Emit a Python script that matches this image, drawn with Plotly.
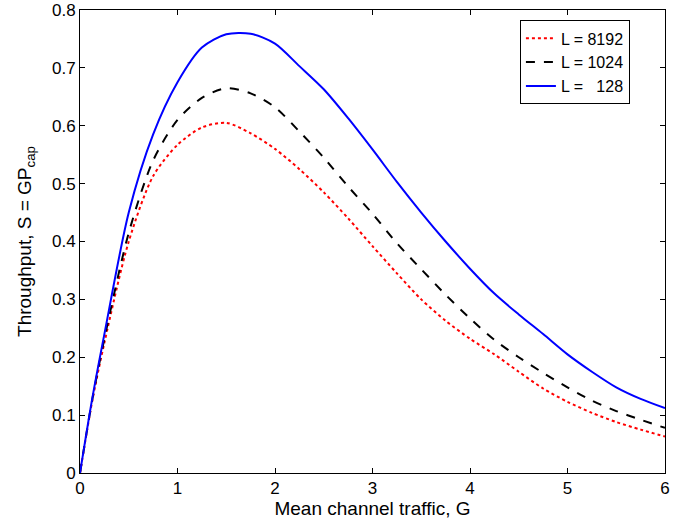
import plotly.graph_objects as go

G = [0, 0.125, 0.25, 0.5, 0.75, 1.0, 1.25, 1.5, 1.75, 2.0, 2.25, 2.5, 2.75, 3.0,
     3.25, 3.5, 3.75, 4.0, 4.25, 4.5, 4.75, 5.0, 5.25, 5.5, 5.75, 6.0]

S_8192 = [0, 0.124, 0.225, 0.40, 0.513, 0.567, 0.597, 0.605, 0.587, 0.560, 0.525,
          0.485, 0.440, 0.392, 0.345, 0.300, 0.263, 0.232, 0.205, 0.175, 0.146,
          0.123, 0.104, 0.088, 0.075, 0.063]
S_1024 = [0, 0.126, 0.232, 0.415, 0.54, 0.610, 0.648, 0.665, 0.656, 0.632, 0.590,
          0.545, 0.495, 0.448, 0.397, 0.352, 0.308, 0.267, 0.230, 0.200, 0.173,
          0.148, 0.125, 0.107, 0.092, 0.078]
S_128 = [0, 0.128, 0.24, 0.45, 0.585, 0.675, 0.735, 0.758, 0.759, 0.742, 0.703,
         0.663, 0.613, 0.559, 0.503, 0.450, 0.400, 0.353, 0.310, 0.274, 0.240,
         0.205, 0.175, 0.148, 0.128, 0.112]

x_ticks = [0, 1, 2, 3, 4, 5, 6]
y_ticks = [0, 0.1, 0.2, 0.3, 0.4, 0.5, 0.6, 0.7, 0.8]
y_tick_labels = ["0", "0.1", "0.2", "0.3", "0.4", "0.5", "0.6", "0.7", "0.8"]

names = ["L = 8192", "L = 1024", "L =\u00a0\u00a0\u00a0128"]

fig = go.Figure()
fig.add_trace(go.Scatter(x=G, y=S_8192, mode="lines", name=names[0],
                         line=dict(color="#ff0000", dash="dot", width=2,
                                   shape="spline", smoothing=0.8)))
fig.add_trace(go.Scatter(x=G, y=S_1024, mode="lines", name=names[1],
                         line=dict(color="#000000", dash="dash", width=2,
                                   shape="spline", smoothing=0.8)))
fig.add_trace(go.Scatter(x=G, y=S_128, mode="lines", name=names[2],
                         line=dict(color="#0000ff", width=2,
                                   shape="spline", smoothing=0.8)))

font = "Liberation Sans, Arial, Helvetica, sans-serif"
fig.update_layout(
    width=693, height=523,
    margin=dict(l=79.5, r=27.7, t=10.3, b=49.7, autoexpand=False),
    paper_bgcolor="white", plot_bgcolor="white",
    font=dict(family=font, size=16, color="black"),
    showlegend=True,
    legend=dict(x=0.752, y=0.9775, xanchor="left", yanchor="top",
                bgcolor="white", bordercolor="black", borderwidth=1,
                tracegroupgap=0, entrywidth=100, entrywidthmode="pixels"),
    xaxis=dict(range=[0, 6], tickvals=x_ticks, ticks="inside", ticklen=5,
               tickfont=dict(size=17),
               showline=True, linecolor="black", linewidth=1, mirror="ticks",
               showgrid=False, zeroline=False, tickcolor="black", automargin=False,
               ticklabeloverflow="allow",
               title=dict(text="Mean channel traffic, G", standoff=4)),
    yaxis=dict(range=[0, 0.8], tickvals=y_ticks, ticktext=y_tick_labels,
               ticks="inside", ticklen=5, automargin=False,
               tickfont=dict(size=17),
               ticklabeloverflow="allow",
               showline=True, linecolor="black", linewidth=1, mirror="ticks",
               showgrid=False, zeroline=False, tickcolor="black",
               title=dict(text="Throughput, S = GP<sub>cap</sub>", standoff=15)),
)

fig.write_html("out.html", config={"displayModeBar": False},
               post_script="document.body.style.margin='0';")
